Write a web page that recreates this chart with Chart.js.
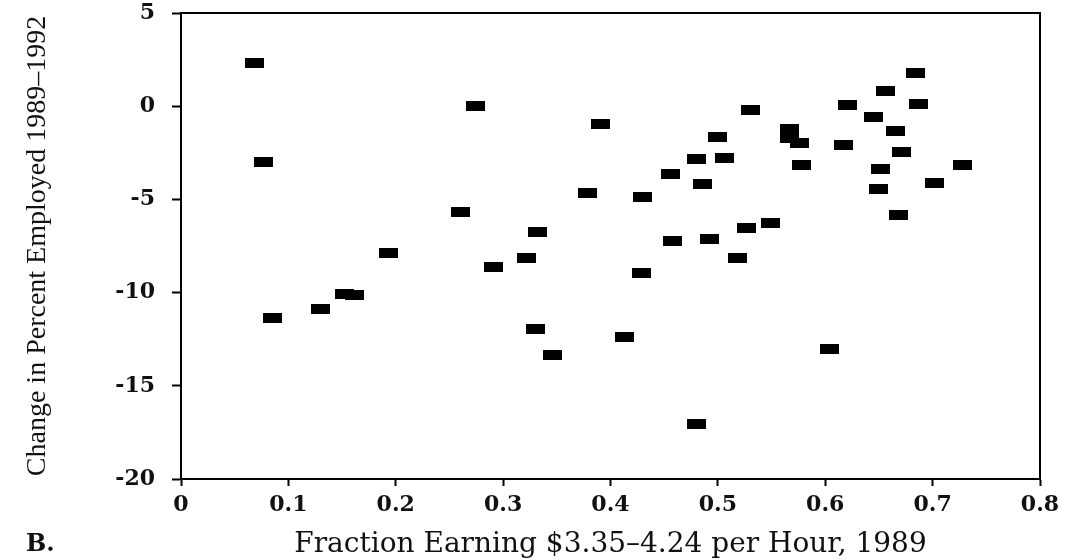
<!DOCTYPE html>
<html lang="en">
  <head>
    <meta charset="UTF-8" />
    <title>Change in Percent Employed vs Fraction Low-Wage</title>
    <script src="https://cdn.jsdelivr.net/npm/chart.js"></script>
    <style>
      body {
        margin: 0;
        background-color: #ffffff;
      }
      .chart-container {
        position: relative;
        width: 1071px;
        height: 560px;
      }
    </style>
  </head>
  <body>
    <div class="chart-container"><canvas id="scatterChart"></canvas></div>

    <script>
      // fraction earning $3.35-4.24 per hour, 1989
      const fractionLow = [
        0.068, 0.077, 0.085, 0.13, 0.152, 0.162, 0.193, 0.26, 0.274, 0.291,
        0.322, 0.33, 0.332, 0.346, 0.379, 0.391, 0.413, 0.429, 0.43, 0.456,
        0.458, 0.48, 0.48, 0.486, 0.492, 0.5, 0.506, 0.518, 0.527, 0.53,
        0.549, 0.567, 0.567, 0.576, 0.578, 0.604, 0.617, 0.621, 0.645, 0.65,
        0.651, 0.656, 0.665, 0.668, 0.671, 0.684, 0.687, 0.702, 0.728,
      ];
      // change in percent employed 1989-1992
      const changeEmployed = [
        2.32, -3.0, -11.36, -10.88, -10.1, -10.15, -7.88, -5.68, 0.0, -8.63,
        -8.14, -11.95, -6.75, -13.35, -4.66, -0.95, -12.38, -8.95, -4.87, -3.64,
        -7.23, -2.83, -17.05, -4.17, -7.12, -1.65, -2.77, -8.14, -6.54, -0.2,
        -6.27, -1.2, -1.7, -1.95, -3.15, -13.03, -2.08, 0.05, -0.58, -4.44,
        -3.37, 0.82, -1.33, -5.84, -2.46, 1.78, 0.12, -4.12, -3.15,
      ];

      const xTicks = [0, 0.1, 0.2, 0.3, 0.4, 0.5, 0.6, 0.7, 0.8];
      const yTicks = [-20, -15, -10, -5, 0, 5];

      const points = fractionLow.map((x, i) => ({ x: x, y: changeEmployed[i] }));

      // flat black block used as the marker
      const marker = document.createElement("canvas");
      marker.width = 19;
      marker.height = 10;
      const mctx = marker.getContext("2d");
      mctx.fillStyle = "#000";
      mctx.fillRect(0, 0, 19, 10);

      const framePlugin = {
        id: "frame",
        afterDraw(chart) {
          const { ctx, chartArea } = chart;
          ctx.save();
          ctx.strokeStyle = "#000";
          ctx.lineWidth = 2;
          ctx.beginPath();
          ctx.moveTo(chartArea.left, chartArea.top);
          ctx.lineTo(chartArea.right, chartArea.top);
          ctx.lineTo(chartArea.right, chartArea.bottom);
          ctx.stroke();
          ctx.fillStyle = "#111";
          ctx.font = "bold 24px 'DejaVu Serif'";
          ctx.textBaseline = "middle";
          ctx.fillText("B.", 26, 545);
          ctx.restore();
        },
      };

      new Chart(document.getElementById("scatterChart"), {
        type: "scatter",
        data: {
          datasets: [
            {
              data: points,
              pointStyle: marker,
              backgroundColor: "#000",
              borderColor: "#000",
            },
          ],
        },
        options: {
          responsive: true,
          maintainAspectRatio: false,
          animation: false,
          layout: { padding: { top: 13, right: 31, left: 0, bottom: 0 } },
          plugins: {
            legend: { display: false },
            tooltip: { enabled: false },
          },
          scales: {
            x: {
              type: "linear",
              min: 0,
              max: 0.8,
              afterFit: (scale) => {
                scale.height = 81;
              },
              afterBuildTicks: (scale) => {
                scale.ticks = xTicks.map((v) => ({ value: v }));
              },
              ticks: {
                color: "#111",
                padding: 6,
                maxRotation: 0,
                font: { family: "DejaVu Serif", size: 22, weight: "bold" },
                callback: (v) => String(+v.toFixed(1)),
              },
              grid: {
                drawOnChartArea: false,
                tickLength: 7,
                tickWidth: 2,
                color: "#000",
              },
              border: { color: "#000", width: 2 },
              title: {
                display: true,
                text: "Fraction Earning $3.35\u20134.24 per Hour, 1989",
                color: "#111",
                font: { family: "DejaVu Serif", size: 28 },
                padding: { top: 0, bottom: -2 },
              },
            },
            y: {
              type: "linear",
              min: -20,
              max: 5,
              afterFit: (scale) => {
                scale.width = 181;
                scale.paddingTop = 0;
                scale.paddingBottom = 0;
              },
              afterBuildTicks: (scale) => {
                scale.ticks = yTicks.map((v) => ({ value: v }));
              },
              ticks: {
                color: "#111",
                padding: 17,
                font: { family: "DejaVu Serif", size: 22, weight: "bold" },
                callback: (v) => String(v),
              },
              grid: {
                drawOnChartArea: false,
                tickLength: 9,
                tickWidth: 2,
                color: "#000",
              },
              border: { color: "#000", width: 2 },
              title: {
                display: true,
                text: "Change in Percent Employed 1989\u20131992",
                color: "#111",
                font: { family: "Liberation Serif", size: 28 },
                padding: { top: 21, bottom: 0 },
              },
            },
          },
        },
        plugins: [framePlugin],
      });
    </script>
  </body>
</html>
